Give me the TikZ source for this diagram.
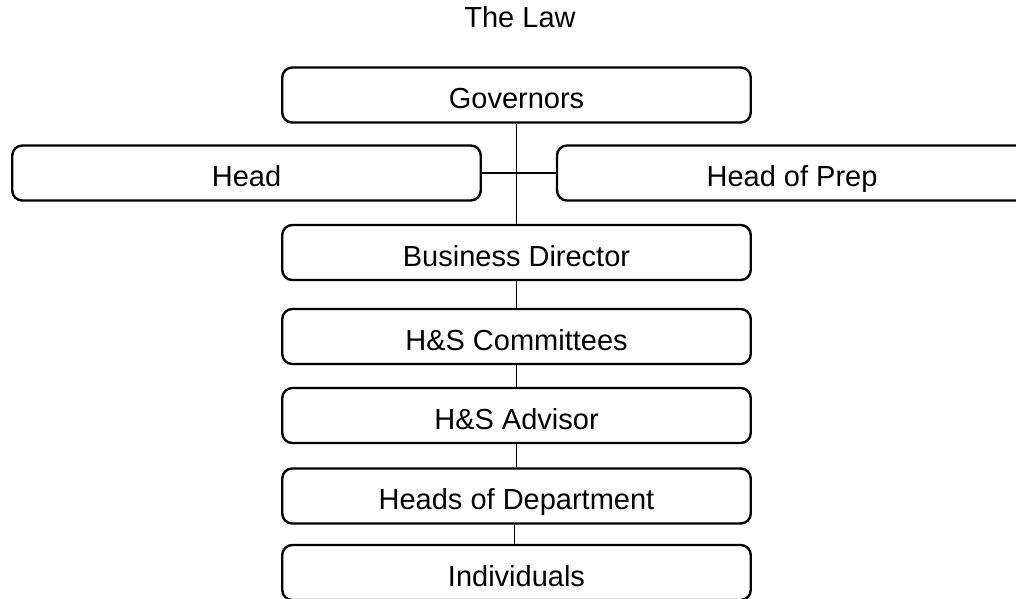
\documentclass[tikz,border=0pt]{standalone}
\usepackage{fontspec}
\setmainfont{Liberation Sans}
\begin{document}
\begin{tikzpicture}[x=1pt,y=-1pt,
  orgbox/.style={draw=black, line width=2.4pt, rounded corners=10pt, fill=white,
    minimum width=468.5pt, minimum height=55pt, inner sep=0pt,
    text height=27pt, text depth=0pt,
    font=\fontsize{29}{34}\selectfont},
  link/.style={draw=black, line width=1.1pt}]
\useasboundingbox (0,0) rectangle (1016,598);
\clip (0,0) rectangle (1016,598);
\fill[white] (0,0) rectangle (1016,598);
\node[anchor=base, font=\fontsize{29}{34}\selectfont] (law) at (520,27) {The Law};
\node[orgbox] (gov) at (516.5,95) {Governors};
\node[orgbox] (head) at (246.5,173) {Head};
\node[orgbox, minimum width=470pt] (prep) at (792,173) {Head of Prep};
\node[orgbox] (bd) at (516.5,252.5) {Business Director};
\node[orgbox] (com) at (516.5,336.5) {H\&S Committees};
\node[orgbox] (adv) at (516.5,415.5) {H\&S Advisor};
\node[orgbox] (hod) at (516.5,496) {Heads of Department};
\node[orgbox] (ind) at (516.5,572.5) {Individuals};
\draw[link] (gov.south) -- (bd.north);
\draw[link] (head.east) -- (prep.west);
\draw[link] (bd.south) -- (com.north);
\draw[link] (com.south) -- (adv.north);
\draw[link] (adv.south) -- (hod.north);
\draw[link] ([xshift=-2pt]hod.south) -- ([xshift=-2pt]ind.north);
\end{tikzpicture}
\end{document}
